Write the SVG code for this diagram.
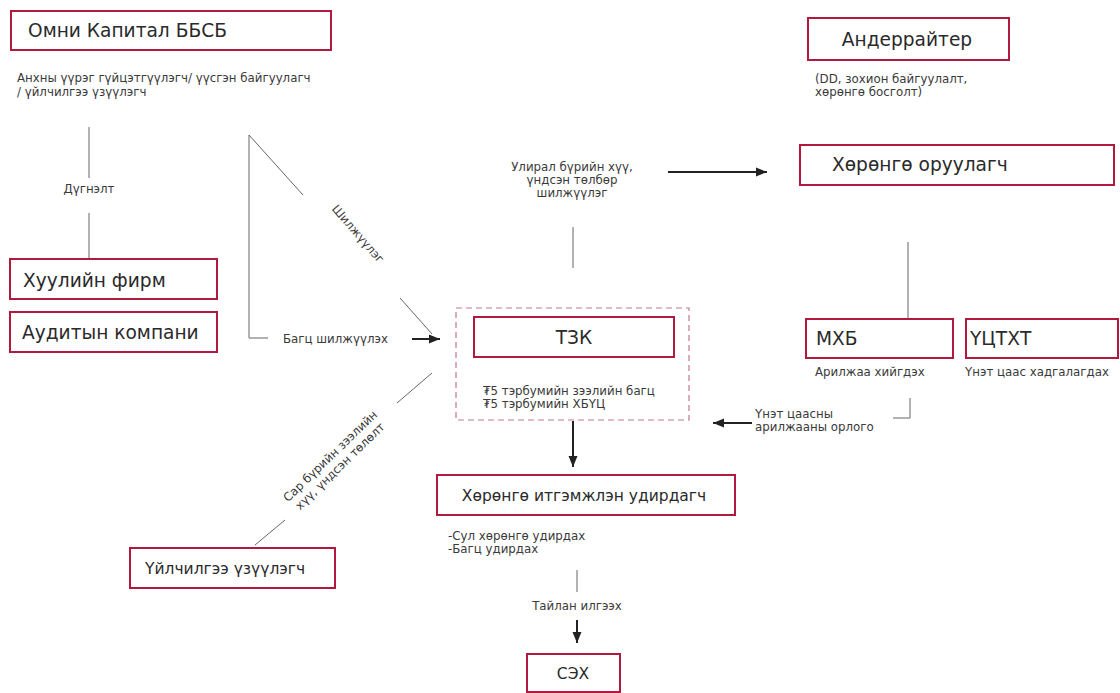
<svg xmlns="http://www.w3.org/2000/svg" width="1120" height="693" viewBox="0 0 1120 693">
<style>
.box{fill:#fff;stroke:#b3183f;stroke-width:2}
.t{font-family:"DejaVu Sans","Noto Sans",sans-serif;fill:#2a2a2a}
.big{font-size:18.6px}
.mid{font-size:15.5px}
.sm{font-size:11.8px;fill:#3a3a3a}
.ln{stroke:#666;stroke-width:1;fill:none}
.ar{stroke:#222;stroke-width:2;fill:none;marker-end:url(#ah)}
.dash{fill:none;stroke:#c27a8a;stroke-width:1.2;stroke-dasharray:6 4}
</style>
<defs>
<marker id="ah" markerUnits="userSpaceOnUse" markerWidth="12" markerHeight="12" viewBox="0 0 12 12" refX="11" refY="6" orient="auto">
<path d="M0,1.5 L11,6 L0,10.5 Z" fill="#222"/>
</marker>
</defs>
<rect width="1120" height="693" fill="#fff"/>

<g id="connectors">
<line class="ln" x1="89" y1="127" x2="89" y2="178"/>
<line class="ln" x1="89" y1="213" x2="89" y2="258"/>
<polyline class="ln" points="303,195 249,135 249,338 268,338"/>
<line class="ln" x1="400" y1="298" x2="432" y2="334"/>
<line class="ar" x1="412" y1="339" x2="440" y2="339"/>
<line class="ln" x1="255" y1="545" x2="285" y2="520"/>
<line class="ln" x1="397" y1="403" x2="432" y2="373"/>
<line class="ar" x1="668" y1="172" x2="767" y2="172"/>
<line class="ln" x1="573" y1="227" x2="573" y2="268"/>
<line class="ln" x1="908" y1="242" x2="908" y2="318"/>
<polyline class="ln" points="910,398 910,418 893,418"/>
<line class="ar" x1="752" y1="423" x2="713" y2="423"/>
<line class="ar" x1="573" y1="421" x2="573" y2="467"/>
<line class="ln" x1="577" y1="570" x2="577" y2="592"/>
<line class="ar" x1="577" y1="620" x2="577" y2="643"/>
<text class="t sm" x="89" y="193" text-anchor="middle">Дүгнэлт</text>
<text class="t sm" transform="translate(358,234) rotate(49)" x="0" y="4" text-anchor="middle">Шилжүүлэг</text>
<text class="t sm" x="283" y="343">Багц шилжүүлэх</text>
<g transform="translate(333,459) rotate(-44)">
<text class="t sm" x="0" y="0" text-anchor="middle">Сар бүрийн зээлийн</text>
<text class="t sm" x="0" y="14" text-anchor="middle">хүү, үндсэн төлөлт</text>
</g>
<text class="t sm" x="572" y="171" text-anchor="middle">Улирал бүрийн хүү,</text>
<text class="t sm" x="572" y="184" text-anchor="middle">үндсэн төлбөр</text>
<text class="t sm" x="572" y="197" text-anchor="middle">шилжүүлэг</text>
<text class="t sm" x="755" y="418">Үнэт цаасны</text>
<text class="t sm" x="755" y="431">арилжааны орлого</text>
<text class="t sm" x="577" y="610" text-anchor="middle">Тайлан илгээх</text>
</g>

<g id="omni">
<rect class="box" x="11" y="11" width="320" height="39"/>
<text class="t big" x="28" y="37">Омни Капитал ББСБ</text>
<text class="t sm" x="17" y="82">Анхны үүрэг гүйцэтгүүлэгч/ үүсгэн байгуулагч</text>
<text class="t sm" x="17" y="96">/ үйлчилгээ үзүүлэгч</text>
</g>

<g id="underwriter">
<rect class="box" x="808" y="18" width="201" height="42"/>
<text class="t big" x="907" y="46" text-anchor="middle">Андеррайтер</text>
<text class="t sm" x="815" y="83">(DD, зохион байгуулалт,</text>
<text class="t sm" x="815" y="96">хөрөнгө босголт)</text>
</g>

<g id="investor">
<rect class="box" x="800" y="145" width="314" height="40"/>
<text class="t big" x="832" y="171">Хөрөнгө оруулагч</text>
</g>

<g id="law">
<rect class="box" x="10" y="259" width="207" height="40"/>
<text class="t big" x="23" y="287">Хуулийн фирм</text>
</g>

<g id="audit">
<rect class="box" x="10" y="312" width="207" height="40"/>
<text class="t big" x="22" y="339">Аудитын компани</text>
</g>

<g id="tzk">
<rect class="dash" x="456" y="308" width="233" height="112"/>
<rect class="box" x="474" y="317" width="200" height="40"/>
<text class="t big" x="574" y="344" text-anchor="middle">ТЗК</text>
<text class="t sm" x="483" y="395">₮5 тэрбумийн зээлийн багц</text>
<text class="t sm" x="483" y="408">₮5 тэрбумийн ХБҮЦ</text>
</g>

<g id="mse">
<rect class="box" x="806" y="319" width="147" height="39"/>
<text class="t big" x="816" y="345">МХБ</text>
<text class="t sm" x="815" y="376">Арилжаа хийгдэх</text>
</g>

<g id="csd">
<rect class="box" x="966" y="319" width="152" height="39"/>
<text class="t big" x="970" y="345">ҮЦТХТ</text>
<text class="t sm" x="965" y="376">Үнэт цаас хадгалагдах</text>
</g>

<g id="servicer">
<rect class="box" x="130" y="548" width="205" height="40"/>
<text class="t mid" x="145" y="574">Үйлчилгээ үзүүлэгч</text>
</g>

<g id="trustee">
<rect class="box" x="437" y="475" width="298" height="40"/>
<text class="t mid" x="584" y="501" text-anchor="middle">Хөрөнгө итгэмжлэн удирдагч</text>
<text class="t sm" x="448" y="540">-Сул хөрөнгө удирдах</text>
<text class="t sm" x="448" y="553">-Багц удирдах</text>
</g>

<g id="frc">
<rect class="box" x="527" y="654" width="93" height="38"/>
<text class="t mid" x="573" y="679" text-anchor="middle">СЭХ</text>
</g>
</svg>
